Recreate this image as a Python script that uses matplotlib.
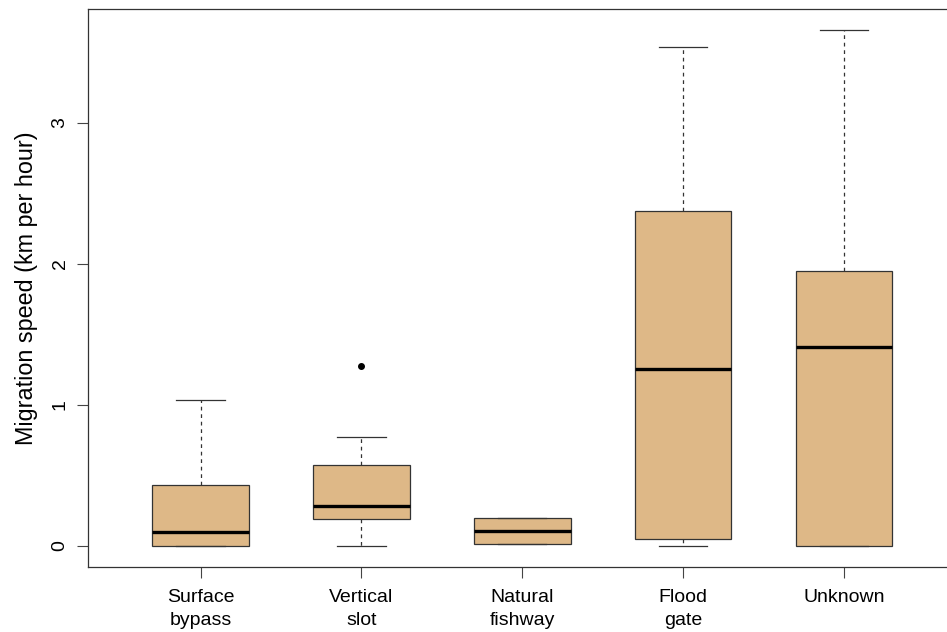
import matplotlib

matplotlib.use("Agg")
import matplotlib.pyplot as plt

# Boxplot summary (km per hour)
categories = ["Surface\nbypass", "Vertical\nslot", "Natural\nfishway", "Flood\ngate", "Unknown"]
whisker_low = [0.0, 0.0, 0.014, 0.0, 0.0]
q1 = [0.0, 0.19, 0.014, 0.05, 0.0]
median = [0.10, 0.28, 0.106, 1.255, 1.41]
q3 = [0.43, 0.574, 0.20, 2.376, 1.95]
whisker_high = [1.035, 0.77, 0.20, 3.54, 3.66]
outliers = [[], [1.277], [], [], []]

plt.rcParams["font.family"] = ["Liberation Sans", "DejaVu Sans"]

stats = []
for i, name in enumerate(categories):
    stats.append(dict(label=name, whislo=whisker_low[i], q1=q1[i], med=median[i],
                      q3=q3[i], whishi=whisker_high[i], fliers=outliers[i]))

fig = plt.figure(figsize=(9.47, 6.32), dpi=100)
ax = fig.add_axes([88 / 947, 1 - 566.6 / 632, 868.7 / 947, (566.6 - 9.3) / 632])

positions = list(range(1, len(categories) + 1))
ax.bxp(
    stats,
    positions=positions,
    widths=0.6,
    patch_artist=True,
    boxprops=dict(facecolor="#DEB887", edgecolor="#333333", linewidth=0.9),
    medianprops=dict(color="black", linewidth=2.4),
    whiskerprops=dict(color="#333333", linestyle=(0, (3, 3)), linewidth=0.9),
    capprops=dict(color="#333333", linewidth=0.9),
    flierprops=dict(marker="o", markerfacecolor="black", markeredgecolor="black", markersize=4),
    capwidths=0.3,
)

ymax = max(whisker_high)
ax.set_xlim(0.3, 5.7)
ax.set_ylim(-0.04 * ymax, ymax * 1.04)
ax.set_yticks([0, 1, 2, 3])
ax.set_yticklabels(["0", "1", "2", "3"], rotation=90, va="center")
ax.set_xticks(positions)
ax.set_xticklabels(categories, fontsize=14, linespacing=1.5)
ax.tick_params(axis="y", labelsize=14, length=8, width=0.8, color="#444444", pad=6)
ax.tick_params(axis="x", length=8, width=0.8, color="#444444", pad=8)
ax.set_ylabel("Migration speed (km per hour)", fontsize=16.8, labelpad=10)
for s in ax.spines.values():
    s.set_linewidth(0.9)
    s.set_color("#333333")

fig.savefig("out.png", dpi=100)
